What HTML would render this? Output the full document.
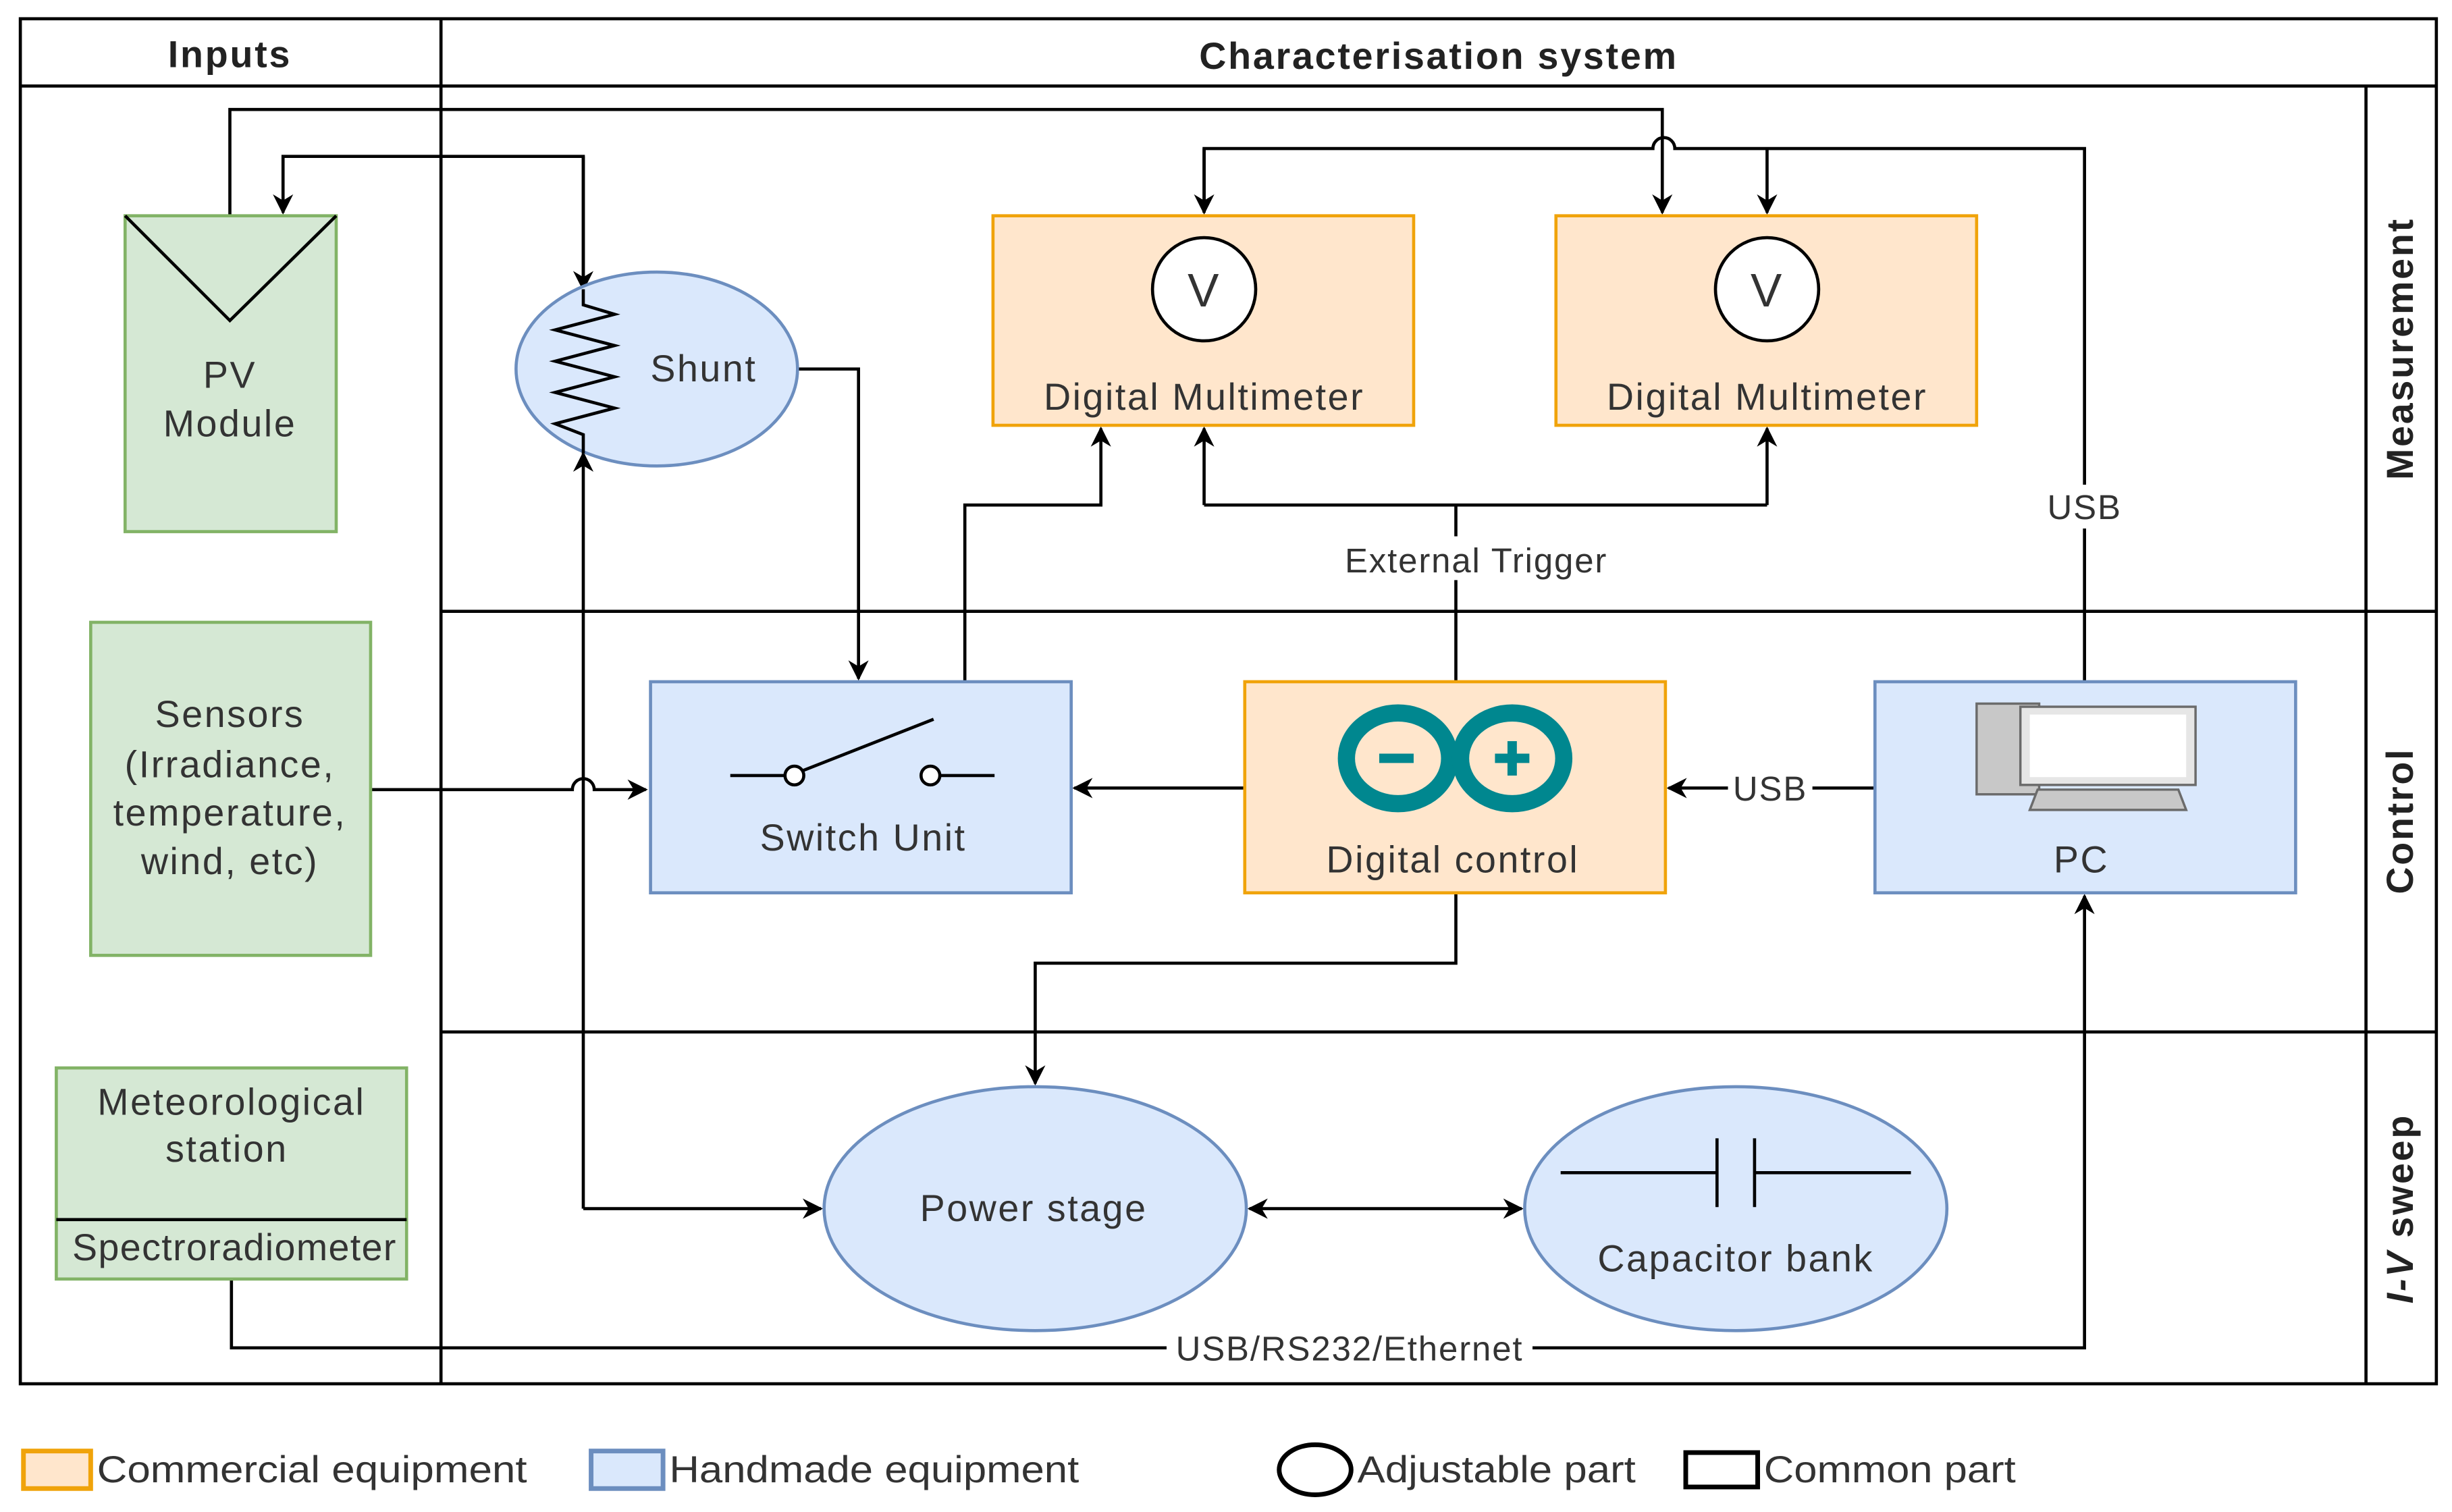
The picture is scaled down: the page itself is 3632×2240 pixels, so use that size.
<!DOCTYPE html>
<html><head><meta charset="utf-8"><style>html,body{margin:0;padding:0;background:#fff}svg{display:block}</style></head>
<body>
<svg width="3632" height="2240" viewBox="0 0 1568 967" preserveAspectRatio="none" xmlns="http://www.w3.org/2000/svg" font-family="Liberation Sans, sans-serif">
<defs>
<marker id="a" viewBox="0 0 10 10" refX="9" refY="5" markerWidth="15" markerHeight="13" markerUnits="userSpaceOnUse" orient="auto-start-reverse">
<path d="M0,0 L10,5 L0,10 L3,5 z" fill="#000"/></marker>
</defs>
<rect width="1568" height="967" fill="#fff"/>
<g fill="none" stroke="#000" stroke-width="2">
<rect x="13" y="12" width="1545" height="873"/>
<line x1="13" y1="55" x2="1558" y2="55"/>
<line x1="282" y1="12" x2="282" y2="885"/>
<line x1="1513" y1="55" x2="1513" y2="885"/>
<line x1="282" y1="391" x2="1558" y2="391"/>
<line x1="282" y1="660" x2="1558" y2="660"/>
</g>
<g font-size="24" font-weight="bold" text-anchor="middle" fill="#222" letter-spacing="1.2">
<text x="147" y="43">Inputs</text>
<text x="920" y="44">Characterisation system</text>
<text transform="translate(1543,223) rotate(-90)">Measurement</text>
<text transform="translate(1543,525) rotate(-90)">Control</text>
<text transform="translate(1543,773) rotate(-90)"><tspan font-style="italic">I-V</tspan> sweep</text>
</g>
<g fill="none" stroke="#000" stroke-width="2">
<path d="M147,138 V70 H1063 V136" marker-end="url(#a)"/>
<path d="M770,136 V95 H1057 A7,7 0 0 1 1071,95 H1333 V436"/>
<path d="M770,95 V136" marker-end="url(#a)"/>
<path d="M1130,95 V136" marker-end="url(#a)"/>
<path d="M373,185 V100 H181 V136" marker-end="url(#a)"/>
<path d="M373,100 V185" marker-end="url(#a)"/>
<path d="M510,236 H549 V434" marker-end="url(#a)"/>
<path d="M373,773 V290" marker-end="url(#a)"/>
<path d="M373,773 H525" marker-end="url(#a)"/>
<path d="M617,436 V323 H704 V274" marker-end="url(#a)"/>
<path d="M931,436 V323"/>
<path d="M770,323 H1130"/>
<path d="M770,323 V274" marker-end="url(#a)"/>
<path d="M1130,323 V274" marker-end="url(#a)"/>
<path d="M237,505 H366 A7,7 0 0 1 380,505 H413" marker-end="url(#a)"/>
<path d="M796,504 H687" marker-end="url(#a)"/>
<path d="M1199,504 H1067" marker-end="url(#a)"/>
<path d="M931,571 V616 H662 V693" marker-end="url(#a)"/>
<path d="M799,773 H973" marker-start="url(#a)" marker-end="url(#a)"/>
<path d="M148,818 V862 H1333 V573" marker-end="url(#a)"/>
</g>
<rect x="80" y="138" width="135" height="202" fill="#d5e8d4" stroke="#82b366" stroke-width="2"/>
<path d="M80,138 L147,205 L215,138" fill="none" stroke="#000" stroke-width="2"/>
<rect x="58" y="398" width="179" height="213" fill="#d5e8d4" stroke="#82b366" stroke-width="2"/>
<rect x="36" y="683" width="224" height="135" fill="#d5e8d4" stroke="#82b366" stroke-width="2"/>
<line x1="36" y1="780" x2="260" y2="780" stroke="#000" stroke-width="2"/>
<ellipse cx="420" cy="236" rx="90" ry="62" fill="#dae8fc" stroke="#6c8ebf" stroke-width="2"/>
<path d="M373,185 L373,195 L393,201 L355,211 L393,221 L355,231 L393,241 L355,251 L393,261 L355,271 L373,278 L373,290" fill="none" stroke="#000" stroke-width="2"/>
<rect x="635" y="138" width="269" height="134" fill="#ffe6cc" stroke="#f0a30a" stroke-width="2"/>
<rect x="995" y="138" width="269" height="134" fill="#ffe6cc" stroke="#f0a30a" stroke-width="2"/>
<circle cx="770" cy="185" r="33" fill="#fff" stroke="#000" stroke-width="2"/>
<circle cx="1130" cy="185" r="33" fill="#fff" stroke="#000" stroke-width="2"/>
<rect x="416" y="436" width="269" height="135" fill="#dae8fc" stroke="#6c8ebf" stroke-width="2"/>
<g stroke="#000" stroke-width="2" fill="#fff">
<line x1="467" y1="496" x2="502" y2="496"/><circle cx="508" cy="496" r="6"/>
<line x1="513" y1="493" x2="597" y2="460"/><circle cx="595" cy="496" r="6"/>
<line x1="601" y1="496" x2="636" y2="496"/>
</g>
<rect x="796" y="436" width="269" height="135" fill="#ffe6cc" stroke="#f0a30a" stroke-width="2"/>
<g fill="none" stroke="#00878f" stroke-width="11">
<ellipse cx="894" cy="485" rx="33" ry="29"/>
<ellipse cx="967" cy="485" rx="33" ry="29"/>
</g>
<g stroke="#00878f" stroke-width="6"><line x1="882" y1="485" x2="904" y2="485"/><line x1="956" y1="485" x2="978" y2="485"/><line x1="967" y1="474" x2="967" y2="496"/></g>
<rect x="1199" y="436" width="269" height="135" fill="#dae8fc" stroke="#6c8ebf" stroke-width="2"/>
<g stroke="#6b6b6b" stroke-width="1.5">
<rect x="1264" y="450" width="40" height="58" fill="#c8c8c8"/>
<rect x="1292" y="452" width="112" height="50" fill="#e6e6e6"/>
<rect x="1298" y="457" width="100" height="40" fill="#fff" stroke="none"/>
<path d="M1303,505 H1393 L1398,518 H1298 Z" fill="#c8c8c8"/>
</g>
<ellipse cx="662" cy="773" rx="135" ry="78" fill="#dae8fc" stroke="#6c8ebf" stroke-width="2"/>
<ellipse cx="1110" cy="773" rx="135" ry="78" fill="#dae8fc" stroke="#6c8ebf" stroke-width="2"/>
<g stroke="#000" stroke-width="2"><line x1="998" y1="750" x2="1098" y2="750"/><line x1="1098" y1="728" x2="1098" y2="772"/><line x1="1122" y1="728" x2="1122" y2="772"/><line x1="1122" y1="750" x2="1222" y2="750"/></g>
<g font-size="24" fill="#333" text-anchor="middle" letter-spacing="1.1">
<text x="147" y="248">PV</text><text x="147" y="279">Module</text>
<text x="147" y="465">Sensors</text><text x="147" y="497">(Irradiance,</text><text x="147" y="528">temperature,</text><text x="147" y="559">wind, etc)</text>
<text x="148" y="713">Meteorological</text><text x="145" y="743">station</text><text x="150" y="806" letter-spacing="0.6">Spectroradiometer</text>
<text x="450" y="244">Shunt</text>
<text x="770" y="196" font-size="30">V</text><text x="1130" y="196" font-size="30">V</text>
<text x="770" y="262">Digital Multimeter</text><text x="1130" y="262">Digital Multimeter</text>
<text x="552" y="544">Switch Unit</text>
<text x="929" y="558">Digital control</text>
<text x="1331" y="558">PC</text>
<text x="661" y="781">Power stage</text>
<text x="1110" y="813">Capacitor bank</text>
</g>
<g font-size="22" fill="#333" text-anchor="middle" letter-spacing="0.8">
<rect x="842" y="343" width="204" height="28" fill="#fff"/>
<text x="944" y="366">External Trigger</text>
<rect x="1303" y="310" width="60" height="28" fill="#fff"/>
<text x="1333" y="332">USB</text>
<rect x="1105" y="491" width="54" height="26" fill="#fff"/>
<text x="1132" y="512">USB</text>
<rect x="746" y="850" width="234" height="24" fill="#fff"/>
<text x="863" y="870">USB/RS232/Ethernet</text>
</g>
<rect x="15" y="928" width="43" height="24" fill="#ffe6cc" stroke="#f0a30a" stroke-width="3"/>
<rect x="378" y="928" width="46" height="24" fill="#dae8fc" stroke="#6c8ebf" stroke-width="3"/>
<ellipse cx="841" cy="940" rx="23" ry="16" fill="#fff" stroke="#000" stroke-width="3"/>
<rect x="1078" y="929" width="46" height="22" fill="#fff" stroke="#000" stroke-width="3"/>
<g font-size="24" fill="#333">
<text x="62" y="948" textLength="275" lengthAdjust="spacingAndGlyphs">Commercial equipment</text>
<text x="428" y="948" textLength="262" lengthAdjust="spacingAndGlyphs">Handmade equipment</text>
<text x="868" y="948" textLength="178" lengthAdjust="spacingAndGlyphs">Adjustable part</text>
<text x="1128" y="948" textLength="161" lengthAdjust="spacingAndGlyphs">Common part</text>
</g>
</svg>
</body></html>
